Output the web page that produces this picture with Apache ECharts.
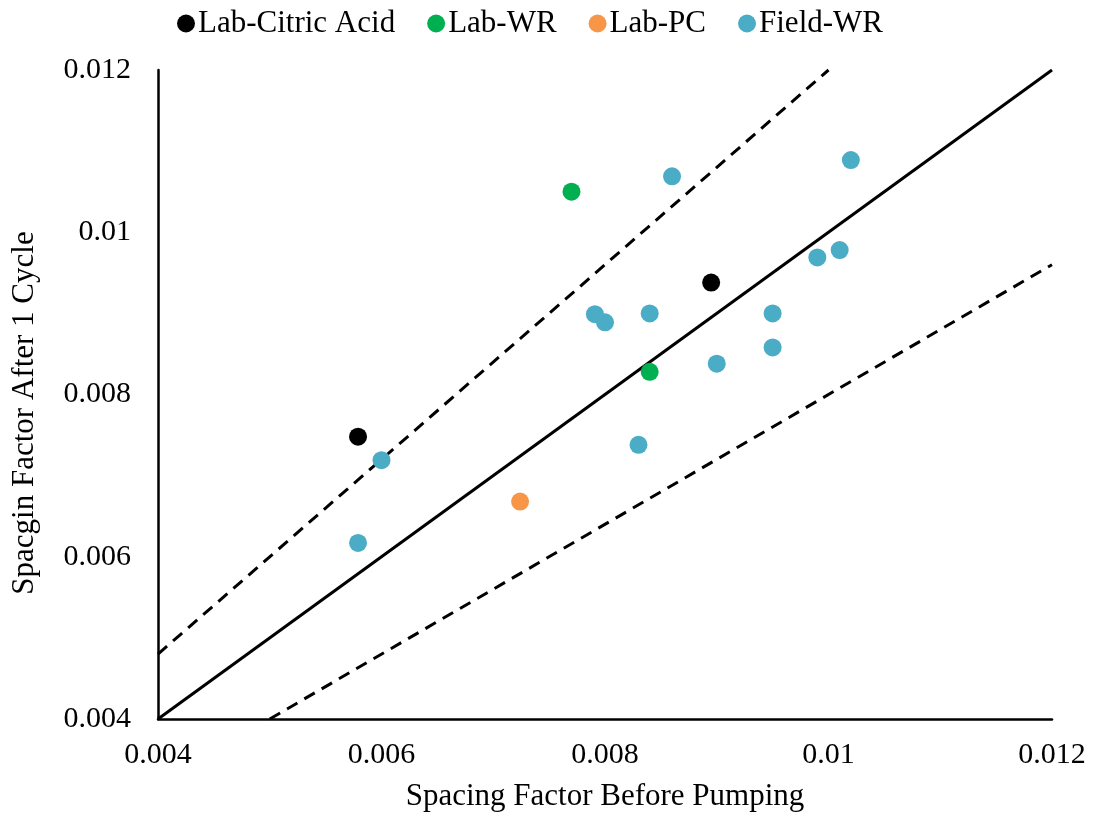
<!DOCTYPE html>
<html><head><meta charset="utf-8">
<script src="https://cdn.jsdelivr.net/npm/echarts@6/dist/echarts.min.js"></script>
<style>html,body{margin:0;padding:0;background:#fff}#c{width:1097px;height:817px}</style>
</head><body><div id="c"></div>
<script>
const seriesNames = ['Lab-Citric Acid','Lab-WR','Lab-PC','Field-WR'];
const seriesColors = ['#000000','#00B050','#F79646','#4BACC6'];
const labCitric = [[0.00579,0.00748],[0.00895,0.00938]];
const labWR = [[0.0077,0.0105],[0.0084,0.00828]];
const labPC = [[0.00724,0.00668]];
const fieldWR = [
  [0.0086,0.01069],[0.0102,0.01089],[0.0099,0.00969],[0.0101,0.00978],
  [0.00791,0.00899],[0.0080,0.00889],[0.0084,0.0090],[0.0095,0.0090],
  [0.0095,0.00858],[0.0090,0.00838],[0.0083,0.00738],[0.0060,0.00719],
  [0.00579,0.00617]
];
const lineEqual = [[0.004,0.004],[0.012,0.012]];
const lineUpper = [[0.004,0.0048],[0.010,0.012]];
const lineLower = [[0.005,0.004],[0.012,0.0096]];
const xTicks = [0.004,0.006,0.008,0.01,0.012];
const yTicks = [0.004,0.006,0.008,0.01,0.012];
const xTitle = 'Spacing Factor Before Pumping';
const yTitle = 'Spacgin Factor After 1 Cycle';

const font = '"Liberation Serif","Times New Roman",serif';
const chart = echarts.init(document.getElementById('c'));
const scatterData = [labCitric, labWR, labPC, fieldWR];
const series = [
  {type:'line', data:lineEqual, symbol:'none', silent:true, lineStyle:{color:'#000',width:3,type:'solid'}, z:1},
  {type:'line', data:lineUpper, symbol:'none', silent:true, lineStyle:{color:'#000',width:3,type:[12,8]}, z:1},
  {type:'line', data:lineLower, symbol:'none', silent:true, lineStyle:{color:'#000',width:3,type:[12,8]}, z:1}
];
scatterData.forEach((d,i)=>series.push({
  name:seriesNames[i], type:'scatter', data:d, symbol:'circle', symbolSize:18,
  itemStyle:{color:seriesColors[i], opacity:1}, z:3
}));
const fmt = v => { const t = [...xTicks, ...yTicks].find(x=>Math.abs(x-v)<1e-9); return t!==undefined ? String(t) : ''; };
chart.setOption({
  animation:false,
  backgroundColor:'#fff',
  textStyle:{fontFamily:font},
  legend:{
    data:seriesNames.map((n,i)=>({name:n, icon:'circle', itemStyle:{color:seriesColors[i]}})),
    top:3, left:172, itemWidth:18, itemHeight:18, itemGap:32,
    textStyle:{fontFamily:font, fontSize:31, color:'#000', padding:[0,0,0,-2]}
  },
  grid:{left:158, right:45, top:70, bottom:98},
  xAxis:{
    type:'value', min:0.004, max:0.012, interval:0.002,
    name:xTitle, nameLocation:'middle', nameGap:62,
    nameTextStyle:{fontFamily:font, fontSize:31, color:'#000'},
    axisLine:{show:true, onZero:false, lineStyle:{color:'#000', width:2.5}},
    axisTick:{show:false}, splitLine:{show:false},
    axisLabel:{fontFamily:font, fontSize:30, color:'#000', margin:21, formatter:fmt}
  },
  yAxis:{
    type:'value', min:0.004, max:0.012, interval:0.002,
    axisLine:{show:true, onZero:false, lineStyle:{color:'#000', width:2.5}},
    axisTick:{show:false}, splitLine:{show:false},
    axisLabel:{fontFamily:font, fontSize:30, color:'#000', margin:27, formatter:fmt}
  },
  graphic:[{
    type:'text', x:25, y:413, rotation:Math.PI/2,
    style:{text:yTitle, font:'31px '+font, fill:'#000', textAlign:'center', textVerticalAlign:'middle'}
  }],
  series:series
});
</script></body></html>
